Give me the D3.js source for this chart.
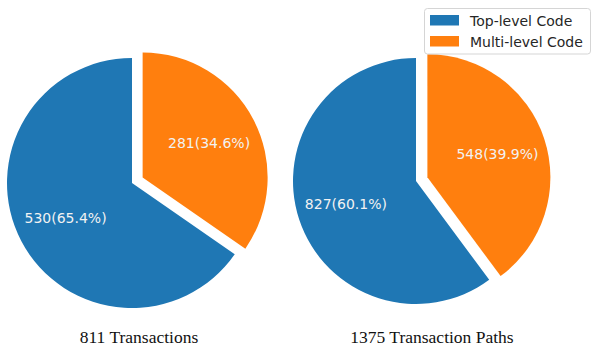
<!DOCTYPE html>
<html>
<head>
<meta charset="utf-8">
<script src="https://cdn.jsdelivr.net/npm/d3@7"></script>
<style>
  html, body { margin: 0; padding: 0; background: #fff; }
  svg { display: block; }
</style>
</head>
<body>
<svg id="chart" width="597" height="362"></svg>
<script>
// ---- data ----
const categories = ["Top-level Code", "Multi-level Code"];
const colors = ["#1f77b4", "#ff7f0e"];
const transactionValues = [530, 281];
const pathValues = [827, 548];
const captions = ["811 Transactions", "1375 Transaction Paths"];

// ---- layout ----
const W = 597, H = 362;
const svg = d3.select("#chart");

const pies = [
  { values: transactionValues, cx: 132, cy: 183, r: 125, caption: captions[0], capX: 139 },
  { values: pathValues, cx: 416, cy: 181, r: 123, caption: captions[1], capX: 432 }
];
const explode = [0, 12];

const pieGen = d3.pie().sort(null).startAngle(0).endAngle(-2 * Math.PI);

pies.forEach(p => {
  const total = d3.sum(p.values);
  const arcs = pieGen(p.values);
  const arc = d3.arc().innerRadius(0).outerRadius(p.r);
  const labelArc = d3.arc().innerRadius(p.r * 0.6).outerRadius(p.r * 0.6);
  const g = svg.append("g").attr("transform", `translate(${p.cx},${p.cy})`);
  arcs.forEach((a, i) => {
    const mid = (a.startAngle + a.endAngle) / 2;
    const dx = Math.sin(mid) * explode[i];
    const dy = -Math.cos(mid) * explode[i];
    const sg = g.append("g").attr("transform", `translate(${dx},${dy})`);
    sg.append("path").attr("d", arc(a)).attr("fill", colors[i]);
    const c = labelArc.centroid(a);
    const pct = (a.data / total * 100).toFixed(1);
    sg.append("text")
      .attr("x", c[0]).attr("y", c[1])
      .attr("text-anchor", "middle")
      .attr("dominant-baseline", "central")
      .attr("font-family", "DejaVu Sans")
      .attr("font-size", 14)
      .attr("fill", "#f2f2f2")
      .text(`${a.data}(${pct}%)`);
  });
  svg.append("text")
    .attr("x", p.capX).attr("y", 343)
    .attr("text-anchor", "middle")
    .attr("font-family", "Liberation Serif")
    .attr("font-size", 17.5)
    .attr("fill", "#111")
    .text(p.caption);
});

// ---- legend ----
const lg = svg.append("g");
lg.append("rect")
  .attr("x", 424.5).attr("y", 8.5).attr("width", 166).attr("height", 45.5)
  .attr("rx", 3).attr("ry", 3)
  .attr("fill", "#fff").attr("fill-opacity", 0.85)
  .attr("stroke", "#d5d5d5").attr("stroke-width", 1);
categories.forEach((c, i) => {
  const y = 15 + i * 21;
  lg.append("rect").attr("x", 430).attr("y", y).attr("width", 29).attr("height", 10.5)
    .attr("fill", colors[i]);
  lg.append("text")
    .attr("x", 470).attr("y", y + 5.5)
    .attr("dominant-baseline", "central")
    .attr("font-family", "DejaVu Sans")
    .attr("font-size", 14)
    .attr("fill", "#262626")
    .text(c);
});
</script>
</body>
</html>
